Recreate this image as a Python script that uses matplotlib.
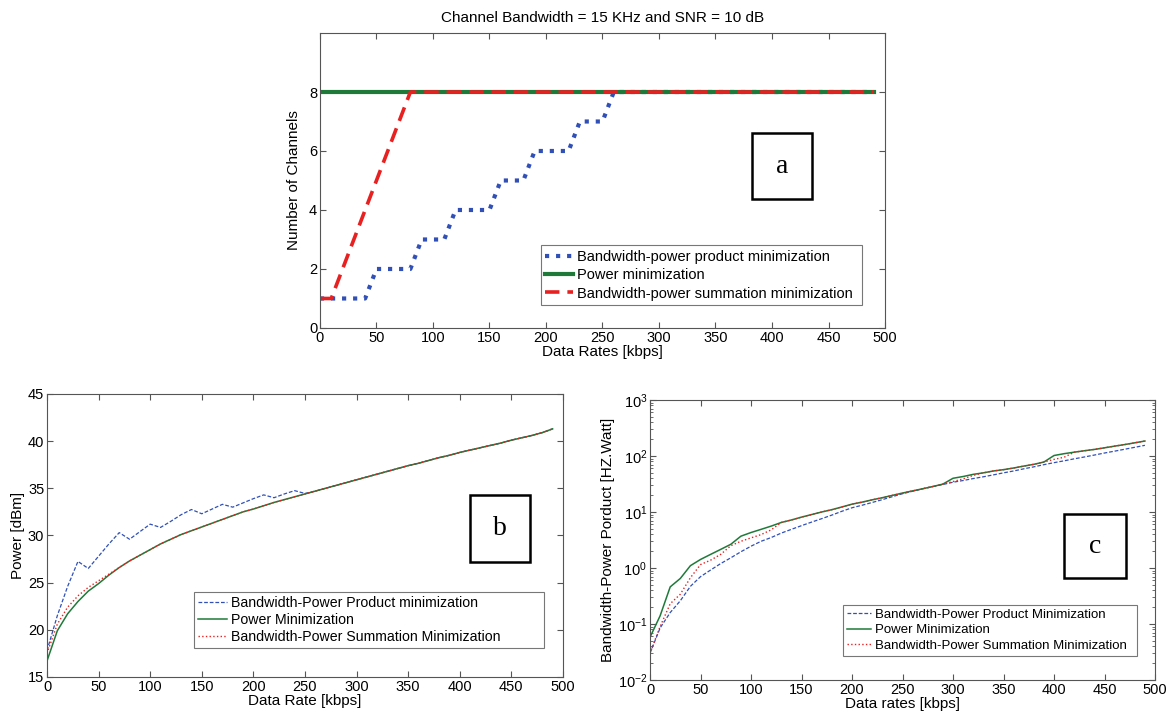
import matplotlib
matplotlib.use("Agg")
import matplotlib.pyplot as plt
from matplotlib.patches import Rectangle

plt.rcParams['font.family'] = ['Liberation Sans', 'DejaVu Sans']

# ---------------- data ----------------
rates = list(range(0, 500, 10))  # kbps

# panel a: number of channels
ch_product = [1, 1, 1, 1, 1, 2, 2, 2, 2, 3, 3, 3, 4, 4, 4, 4, 5, 5, 5, 6,
              6, 6, 6, 7, 7, 7, 8, 8, 8, 8, 8, 8, 8, 8, 8, 8, 8, 8, 8, 8,
              8, 8, 8, 8, 8, 8, 8, 8, 8, 8]
ch_power = [8] * 50
ch_sum = [1, 1, 2, 3, 4, 5, 6, 7, 8, 8, 8, 8, 8, 8, 8, 8, 8, 8, 8, 8,
          8, 8, 8, 8, 8, 8, 8, 8, 8, 8, 8, 8, 8, 8, 8, 8, 8, 8, 8, 8,
          8, 8, 8, 8, 8, 8, 8, 8, 8, 8]

# panel b: power [dBm]
pw_power = [16.7, 19.9, 21.7, 23.0, 24.1, 24.9, 25.8, 26.6, 27.3, 27.9,
            28.5, 29.1, 29.6, 30.1, 30.5, 30.9, 31.3, 31.7, 32.1, 32.5,
            32.8, 33.15, 33.5, 33.8, 34.1, 34.4, 34.7, 35.0, 35.3, 35.6,
            35.9, 36.2, 36.5, 36.8, 37.1, 37.4, 37.65, 37.95, 38.25, 38.5,
            38.8, 39.05, 39.3, 39.55, 39.8, 40.1, 40.35, 40.6, 40.9, 41.3]
pw_sum = [17.5, 20.6, 22.4, 23.6, 24.5, 25.2, 25.9, 26.6, 27.3, 27.9,
          28.5, 29.1, 29.6, 30.1, 30.5, 30.9, 31.3, 31.7, 32.1, 32.5,
          32.8, 33.15, 33.5, 33.8, 34.1, 34.4, 34.7, 35.0, 35.3, 35.6,
          35.9, 36.2, 36.5, 36.8, 37.1, 37.4, 37.65, 37.95, 38.25, 38.5,
          38.8, 39.05, 39.3, 39.55, 39.8, 40.1, 40.35, 40.6, 40.9, 41.3]
pw_product = [17.8, 21.5, 24.6, 27.25, 26.5, 27.8, 29.1, 30.3, 29.6, 30.4,
              31.2, 30.85, 31.5, 32.2, 32.75, 32.3, 32.8, 33.3, 33.0, 33.45,
              33.9, 34.3, 34.0, 34.4, 34.75, 34.45, 34.7, 35.0, 35.3, 35.6,
              35.9, 36.2, 36.5, 36.8, 37.1, 37.4, 37.65, 37.95, 38.25, 38.5,
              38.8, 39.05, 39.3, 39.55, 39.8, 40.1, 40.35, 40.6, 40.9, 41.3]

# panel c: bandwidth-power product [Hz.Watt]
bp_power = [0.058, 0.14, 0.46, 0.65, 1.1, 1.42, 1.75, 2.15, 2.65, 3.7,
            4.3, 4.9, 5.6, 6.5, 7.2, 8.1, 9.0, 10.0, 11.0, 12.3,
            13.8, 15.0, 16.5, 18.0, 19.8, 21.8, 23.8, 26.0, 28.5, 31.5,
            40.0, 43.0, 47.0, 50.0, 54.0, 57.0, 61.0, 66.0, 71.0, 78.0,
            102.0, 110.0, 117.0, 124.0, 131.0, 140.0, 150.0, 160.0, 172.0, 185.0]
bp_sum = [0.030, 0.09, 0.23, 0.34, 0.67, 1.15, 1.38, 1.75, 2.5, 3.0,
          3.45, 3.95, 4.8, 6.5, 7.2, 8.1, 9.0, 10.0, 11.0, 12.3,
          13.8, 15.0, 16.5, 18.0, 19.8, 21.8, 23.8, 26.0, 28.5, 31.5,
          35.0, 39.0, 45.0, 50.0, 54.0, 57.0, 61.0, 66.0, 71.0, 78.0,
          87.0, 95.0, 117.0, 124.0, 131.0, 140.0, 150.0, 160.0, 172.0, 185.0]
bp_product = [0.030, 0.085, 0.16, 0.26, 0.47, 0.70, 0.92, 1.2, 1.52, 1.95,
              2.45, 3.0, 3.5, 4.2, 4.9, 5.7, 6.6, 7.6, 8.8, 10.3,
              11.9, 13.2, 14.8, 16.6, 18.8, 21.2, 23.5, 26.0, 28.5, 31.0,
              34.0, 36.5, 39.5, 42.5, 46.0, 50.0, 54.0, 59.0, 64.0, 70.0,
              76.0, 82.0, 89.0, 96.0, 104.0, 113.0, 122.0, 132.0, 143.0, 155.0]

xticks = list(range(0, 501, 50))

BLUE = '#3050B8'
GREEN = '#1F7A3A'
RED = '#E82020'
SPINE = '#555555'

fig = plt.figure(figsize=(11.75, 7.13), dpi=100)


def style(ax):
    for s in ax.spines.values():
        s.set_color(SPINE)
        s.set_linewidth(0.8)
    ax.tick_params(direction='in', top=True, right=True, labelsize=10.5,
                   colors=SPINE, labelcolor='black', length=4, pad=2)
    ax.tick_params(which='minor', direction='in', top=True, right=True,
                   colors=SPINE, length=2)


def letter_box(ax, x0, y0, x1, y1, ch):
    ax.add_patch(Rectangle((x0, y0), x1 - x0, y1 - y0, transform=ax.transAxes,
                           fill=False, edgecolor='black', linewidth=1.8, zorder=5))
    ax.text((x0 + x1) / 2, (y0 + y1) / 2, ch, transform=ax.transAxes,
            ha='center', va='center', fontsize=20, family='Liberation Serif',
            zorder=6)


def make_legend(ax, box, fs, hl, spacing):
    leg = ax.legend(loc='lower left', bbox_to_anchor=box, mode='expand',
                    fontsize=fs, frameon=True, fancybox=False,
                    edgecolor='#555555', handlelength=hl, handletextpad=0.3,
                    borderpad=0.3, labelspacing=spacing, borderaxespad=0)
    leg.get_frame().set_linewidth(0.8)
    return leg


# ---------------- panel a ----------------
axa = fig.add_axes([0.2723, 0.540, 0.4809, 0.4137])
axa.plot(rates, ch_product, ':', color=BLUE, lw=3,
         label='Bandwidth-power product minimization')
axa.plot(rates, ch_power, '-', color=GREEN, lw=3, label='Power minimization')
axa.plot(rates, ch_sum, '--', color=RED, lw=2.6, dashes=(4, 2.2),
         label='Bandwidth-power summation minimization')
axa.set_xlim(0, 500)
axa.set_ylim(0, 10)
axa.set_xticks(xticks)
axa.set_yticks([0, 2, 4, 6, 8])
axa.set_xlabel('Data Rates [kbps]', fontsize=11, labelpad=0)
axa.set_ylabel('Number of Channels', fontsize=11, labelpad=6)
axa.set_title('Channel Bandwidth = 15 KHz and SNR = 10 dB', fontsize=11, pad=8)
style(axa)
make_legend(axa, (0.391, 0.078, 0.568, 0.214), 10.5, 1.9, 0.3)
letter_box(axa, 0.765, 0.437, 0.871, 0.661, 'a')

# ---------------- panel b ----------------
axb = fig.add_axes([0.040, 0.0505, 0.4391, 0.397])
axb.plot(rates, pw_product, '--', color=BLUE, lw=0.9, dashes=(3, 1.5),
         label='Bandwidth-Power Product minimization')
axb.plot(rates, pw_power, '-', color=GREEN, lw=1.1, label='Power Minimization')
axb.plot(rates, pw_sum, ':', color=RED, lw=1.0,
         label='Bandwidth-Power Summation Minimization')
axb.set_xlim(0, 500)
axb.set_ylim(15, 45)
axb.set_xticks(xticks)
axb.set_yticks(list(range(15, 46, 5)))
axb.set_xlabel('Data Rate [kbps]', fontsize=11, labelpad=0)
axb.set_ylabel('Power [dBm]', fontsize=11, labelpad=2)
style(axb)
make_legend(axb, (0.285, 0.102, 0.678, 0.198), 10.2, 2.0, 0.2)
letter_box(axb, 0.820, 0.406, 0.936, 0.643, 'b')

# ---------------- panel c ----------------
axc = fig.add_axes([0.5532, 0.0463, 0.4298, 0.3927])
axc.semilogy(rates, bp_product, '--', color=BLUE, lw=0.9, dashes=(3, 1.5),
             label='Bandwidth-Power Product Minimization')
axc.semilogy(rates, bp_power, '-', color=GREEN, lw=1.1, label='Power Minimization')
axc.semilogy(rates, bp_sum, ':', color=RED, lw=1.0,
             label='Bandwidth-Power Summation Minimization')
axc.set_xlim(0, 500)
axc.set_ylim(1e-2, 1e3)
axc.set_xticks(xticks)
axc.set_xlabel('Data rates [kbps]', fontsize=11, labelpad=0)
axc.set_ylabel('Bandwidth-Power Porduct [HZ.Watt]', fontsize=11, labelpad=2)
style(axc)
make_legend(axc, (0.382, 0.086, 0.582, 0.207), 9.5, 1.8, 0.25)
letter_box(axc, 0.820, 0.364, 0.943, 0.593, 'c')

fig.savefig('out.png', dpi=100)
